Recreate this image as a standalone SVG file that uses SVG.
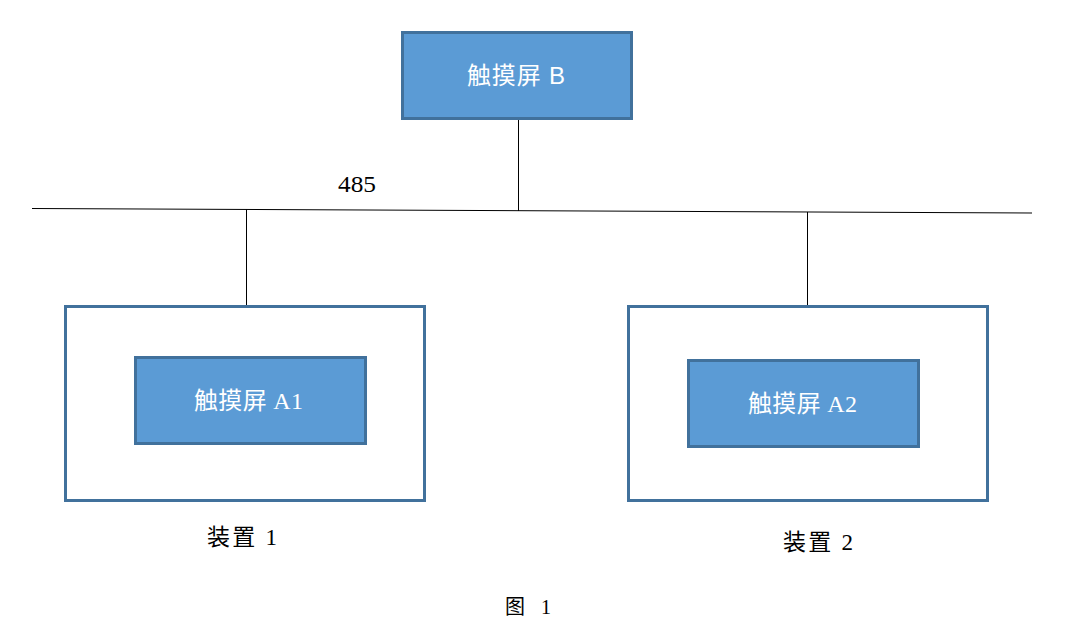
<svg xmlns="http://www.w3.org/2000/svg" width="1071" height="627" viewBox="0 0 1071 627">
<style>
.scr{fill:#5B9BD5;stroke:#41719C;stroke-width:3}
.dev{fill:#FFFFFF;stroke:#41719C;stroke-width:3}
.wl{fill:#FFFFFF;font-size:24px}
.bl{fill:#000000;font-size:23px}
.serif{font-family:"Liberation Serif","Noto Sans CJK SC",serif}
.sans{font-family:"Liberation Sans","Noto Sans CJK SC",sans-serif}
.ln{stroke:#000000;stroke-width:1;fill:none}
</style>
<rect width="1071" height="627" fill="#FFFFFF"/>
<g id="connectors">
<line class="ln" x1="32" y1="208.5" x2="1032" y2="213"/>
<line class="ln" x1="518.5" y1="119" x2="518.5" y2="211"/>
<line class="ln" x1="246.5" y1="209.5" x2="246.5" y2="306"/>
<line class="ln" x1="807.5" y1="212" x2="807.5" y2="306"/>
</g>
<g id="bus-label"><text class="serif" x="338" y="192" font-size="23" textLength="38" lengthAdjust="spacingAndGlyphs">485</text></g>
<g id="screenB">
<rect class="scr" x="402.5" y="32.5" width="229" height="86"/>
<text class="wl sans" x="467" y="84" textLength="98">触摸屏 B</text>
</g>
<g id="device1">
<rect class="dev" x="65.5" y="306.5" width="359" height="194"/>
<text class="bl serif" x="207" y="545" textLength="70">装置 1</text>
</g>
<g id="screenA1">
<rect class="scr" x="135.5" y="357.5" width="230" height="86"/>
<text class="wl serif" x="194" y="409" textLength="109">触摸屏 A1</text>
</g>
<g id="device2">
<rect class="dev" x="628.5" y="306.5" width="359" height="194"/>
<text class="bl serif" x="783" y="550" textLength="70">装置 2</text>
</g>
<g id="screenA2">
<rect class="scr" x="688.5" y="360.5" width="230" height="86"/>
<text class="wl serif" x="748" y="412" textLength="109">触摸屏 A2</text>
</g>
<g id="caption"><text class="serif" x="505" y="614" font-size="20" textLength="46">图 1</text></g>
</svg>
